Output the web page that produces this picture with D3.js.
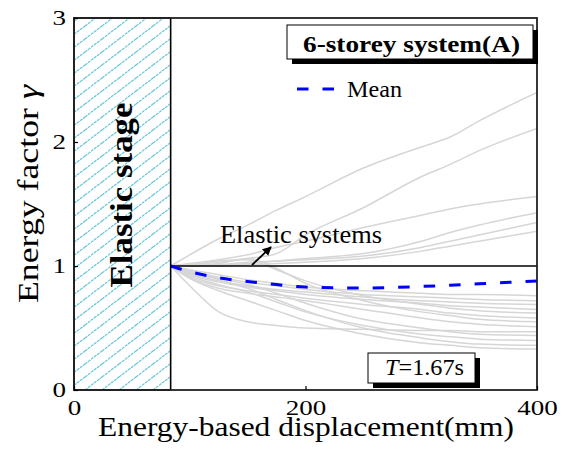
<!DOCTYPE html>
<html>
<head>
<meta charset="utf-8">
<script src="https://cdn.jsdelivr.net/npm/d3@7"></script>
<style>
  body { margin: 0; background: #fff; }
  svg text { font-family: "Liberation Serif", "Times New Roman", Times, serif; fill: #000; }
</style>
</head>
<body>
<div id="chart"></div>
<script>
// displacement (mm) sample points shared by all curves
var xs = [83.5, 100, 125, 150, 175, 200, 250, 300, 325, 350, 400];

// energy factor of each record (grey curves)
var upperCurves = [
  [1, 1.09, 1.22, 1.33, 1.45, 1.56, 1.79, 1.96, 2.04, 2.17, 2.40],
  [1, 1.01, 1.03, 1.06, 1.10, 1.25, 1.47, 1.72, 1.82, 1.93, 2.11],
  [1, 1.02, 1.05, 1.09, 1.15, 1.20, 1.31, 1.41, 1.46, 1.50, 1.56],
  [1, 1.00, 1.01, 1.02, 1.04, 1.06, 1.10, 1.20, 1.27, 1.33, 1.43],
  [1, 1.00, 1.01, 1.03, 1.04, 1.05, 1.08, 1.15, 1.20, 1.25, 1.35],
  [1, 1.00, 1.00, 1.01, 1.02, 1.03, 1.06, 1.12, 1.16, 1.20, 1.28]
];
var lowerCurves = [
  [1, 0.97, 0.93, 0.89, 0.86, 0.83, 0.80, 0.78, 0.77, 0.77, 0.76],
  [1, 0.96, 0.91, 0.87, 0.84, 0.81, 0.77, 0.75, 0.74, 0.73, 0.72],
  [1, 0.94, 0.88, 0.84, 0.81, 0.79, 0.75, 0.72, 0.71, 0.70, 0.69],
  [1, 0.93, 0.87, 0.83, 0.80, 0.77, 0.73, 0.70, 0.68, 0.67, 0.65],
  [1, 1.01, 1.04, 1.05, 0.97, 0.88, 0.76, 0.69, 0.66, 0.64, 0.62],
  [1, 0.91, 0.84, 0.80, 0.77, 0.74, 0.69, 0.65, 0.62, 0.60, 0.58],
  [1, 1.00, 1.02, 1.06, 0.98, 0.86, 0.72, 0.63, 0.60, 0.57, 0.55],
  [1, 0.90, 0.82, 0.78, 0.75, 0.72, 0.65, 0.58, 0.55, 0.53, 0.51],
  [1, 0.84, 0.63, 0.55, 0.52, 0.50, 0.49, 0.48, 0.48, 0.47, 0.47],
  [1, 0.95, 0.90, 0.85, 0.78, 0.70, 0.57, 0.50, 0.47, 0.45, 0.44],
  [1, 0.92, 0.85, 0.79, 0.71, 0.63, 0.52, 0.45, 0.43, 0.41, 0.40],
  [1, 0.95, 0.89, 0.82, 0.73, 0.64, 0.50, 0.42, 0.39, 0.37, 0.36],
  [1, 0.90, 0.80, 0.72, 0.64, 0.56, 0.45, 0.38, 0.36, 0.34, 0.33]
];
var meanValues = [1, 0.955, 0.905, 0.875, 0.85, 0.83, 0.823, 0.835, 0.845, 0.857, 0.879];
var elasticValues = [1, 1];
var elasticX = [83.5, 400];

var xTicks = [0, 200, 400];
var yTicks = [0, 1, 2, 3];
var elasticStage = [0, 83.5];

var width = 563, height = 450;
var margin = {top: 18, right: 26, bottom: 60, left: 74};
var serif = '"Liberation Serif", "Times New Roman", Times, serif';

var x = d3.scaleLinear().domain([0, 400]).range([margin.left, width - margin.right]);
var y = d3.scaleLinear().domain([0, 3]).range([height - margin.bottom, margin.top]);

var svg = d3.select("#chart").append("svg")
    .attr("width", width)
    .attr("height", height);

// hatch for the elastic stage
var defs = svg.append("defs");
var pat = defs.append("pattern")
    .attr("id", "hatch")
    .attr("patternUnits", "userSpaceOnUse")
    .attr("width", 17)
    .attr("height", 13);
pat.append("path")
    .attr("d", "M0,13 L17,0 M-4.25,3.25 L4.25,-3.25 M12.75,16.25 L21.25,9.75")
    .style("stroke", "#62c4d9")
    .style("stroke-width", 1.2)
    .style("stroke-dasharray", "3,0.8");

defs.append("clipPath").attr("id", "plotclip")
  .append("rect")
    .attr("x", x(0)).attr("y", y(3))
    .attr("width", x(400) - x(0)).attr("height", y(0) - y(3));

var line = d3.line()
    .x(function(d, i) { return x(xs[i]); })
    .y(function(d) { return y(d); })
    .curve(d3.curveMonotoneX);

var curves = svg.append("g").attr("clip-path", "url(#plotclip)");

curves.selectAll(".rec")
    .data(upperCurves.concat(lowerCurves))
  .enter().append("path")
    .attr("class", "rec")
    .attr("d", line)
    .style("fill", "none")
    .style("stroke", "#d6d6d6")
    .style("stroke-width", 1.5);

curves.append("path")
    .attr("d", d3.line()
        .x(function(d, i) { return x(elasticX[i]); })
        .y(function(d) { return y(d); })(elasticValues))
    .style("stroke", "#000")
    .style("stroke-width", 1.6);

curves.append("path")
    .attr("d", line(meanValues))
    .style("fill", "none")
    .style("stroke", "#0000ff")
    .style("stroke-width", 3)
    .style("stroke-dasharray", "11.5,14");

// elastic stage box
svg.append("rect")
    .attr("x", x(elasticStage[0]))
    .attr("y", y(3))
    .attr("width", x(elasticStage[1]) - x(elasticStage[0]))
    .attr("height", y(0) - y(3))
    .style("fill", "url(#hatch)")
    .style("stroke", "#000")
    .style("stroke-width", 1.6);

svg.append("text")
    .text("Elastic stage")
    .attr("transform", "translate(132," + 195 + ") rotate(-90)")
    .attr("text-anchor", "middle")
    .attr("textLength", 185)
    .attr("lengthAdjust", "spacingAndGlyphs")
    .style("font-weight", "bold")
    .style("font-size", "32px");

// frame
svg.append("rect")
    .attr("x", x(0)).attr("y", y(3))
    .attr("width", x(400) - x(0)).attr("height", y(0) - y(3))
    .style("fill", "none")
    .style("stroke", "#222")
    .style("stroke-width", 1.8);

// axes
var xAxis = svg.append("g")
    .attr("transform", "translate(0," + y(0) + ")")
    .call(d3.axisBottom(x).tickValues(xTicks).tickFormat(d3.format("d"))
        .tickSizeInner(-4).tickSizeOuter(0).tickPadding(10));
var yAxis = svg.append("g")
    .attr("transform", "translate(" + x(0) + ",0)")
    .call(d3.axisLeft(y).tickValues(yTicks).tickFormat(d3.format("d"))
        .tickSizeInner(-4).tickSizeOuter(0).tickPadding(8));

[xAxis, yAxis].forEach(function(g) {
  g.attr("font-family", serif);
  g.select(".domain").remove();
  g.selectAll(".tick line").style("stroke", "#000").style("stroke-width", 1.2);
  g.selectAll(".tick text")
      .style("font-size", "21px")
      .attr("fill", "#000")
      .attr("textLength", function(d) { return String(d).length * 13.5; })
      .attr("lengthAdjust", "spacingAndGlyphs");
});

// axis titles
svg.append("text")
    .text("Energy-based displacement(mm)")
    .attr("x", 98)
    .attr("y", 436)
    .attr("textLength", 416)
    .attr("lengthAdjust", "spacingAndGlyphs")
    .style("font-size", "28px");

var yt = svg.append("text")
    .attr("transform", "translate(38,194) rotate(-90)")
    .attr("text-anchor", "middle")
    .attr("textLength", 218)
    .attr("lengthAdjust", "spacingAndGlyphs")
    .style("font-size", "29px");
yt.append("tspan").text("Energy factor ");
yt.append("tspan").text("γ").style("font-style", "italic");

// title box
svg.append("rect")
    .attr("x", 292).attr("y", 30).attr("width", 246).attr("height", 34)
    .style("fill", "#000");
svg.append("rect")
    .attr("x", 287).attr("y", 25).attr("width", 246).attr("height", 34)
    .style("fill", "#fff").style("stroke", "#000").style("stroke-width", 1);
svg.append("text")
    .text("6-storey system(A)")
    .attr("x", 303).attr("y", 52)
    .attr("textLength", 217)
    .attr("lengthAdjust", "spacingAndGlyphs")
    .style("font-weight", "bold")
    .style("font-size", "23px");

// legend
svg.append("line")
    .attr("x1", 297).attr("x2", 337).attr("y1", 89).attr("y2", 89)
    .style("stroke", "#0000ff")
    .style("stroke-width", 3)
    .style("stroke-dasharray", "11.5,14");
svg.append("text")
    .text("Mean")
    .attr("x", 347).attr("y", 97)
    .attr("textLength", 55)
    .attr("lengthAdjust", "spacingAndGlyphs")
    .style("font-size", "23px");

// period box
svg.append("rect")
    .attr("x", 373).attr("y", 358).attr("width", 107).attr("height", 30)
    .style("fill", "#000");
svg.append("rect")
    .attr("x", 368).attr("y", 353).attr("width", 107).attr("height", 30)
    .style("fill", "#fff").style("stroke", "#000").style("stroke-width", 1);
var tt = svg.append("text")
    .attr("x", 385).attr("y", 375)
    .attr("textLength", 79)
    .attr("lengthAdjust", "spacingAndGlyphs")
    .style("font-size", "23px");
tt.append("tspan").text("T").style("font-style", "italic");
tt.append("tspan").text("=1.67s");

// elastic systems annotation
defs.append("marker")
    .attr("id", "arrow")
    .attr("viewBox", "0 0 10 10")
    .attr("refX", 9).attr("refY", 5)
    .attr("markerWidth", 5).attr("markerHeight", 5)
    .attr("orient", "auto")
  .append("path")
    .attr("d", "M0,0 L10,5 L0,10 z")
    .style("fill", "#000");

svg.append("line")
    .attr("x1", 252).attr("y1", 265)
    .attr("x2", 271).attr("y2", 247)
    .style("stroke", "#000")
    .style("stroke-width", 1.8)
    .attr("marker-end", "url(#arrow)");

svg.append("text")
    .text("Elastic systems")
    .attr("x", 220).attr("y", 243)
    .attr("textLength", 162)
    .attr("lengthAdjust", "spacingAndGlyphs")
    .style("font-size", "25px");
</script>
</body>
</html>
